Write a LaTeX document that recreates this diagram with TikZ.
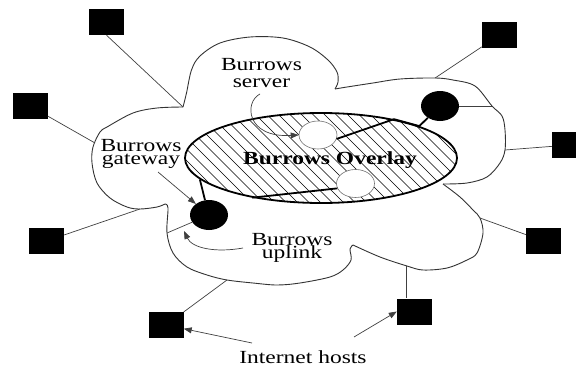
\documentclass[tikz,border=0pt]{standalone}
\usepackage{fontspec}
\usepackage{graphicx}
\setmainfont{Liberation Serif}
\usetikzlibrary{arrows.meta,shapes.geometric,calc}
% labels are set slightly wide
\newcommand\widen[1]{\scalebox{1.27}[1]{#1}}
\newcommand\tightlines{\lineskiplimit-30pt\relax}

\begin{document}
\begin{tikzpicture}[x=1pt,y=-1pt,
  host/.style={rectangle, fill=black, minimum width=35pt, minimum height=26pt, inner sep=0pt},
  gw/.style={ellipse, fill=black, minimum width=38pt, minimum height=30pt, inner sep=0pt},
  srv/.style={ellipse, draw=black!55, line width=0.6pt, fill=white, minimum width=38pt, minimum height=28pt, inner sep=0pt},
  lbl/.style={font=\fontsize{18.5}{20}\selectfont, inner sep=0pt, anchor=base},
  lbltwo/.style={align=center, inner sep=0pt, anchor=north,
    font={\fontsize{18.5}{#1}\selectfont\tightlines}},
  link/.style={draw=black!75, line width=0.7pt},
  cloudline/.style={draw=black!80, line width=0.9pt, line join=round},
  overlaylink/.style={draw=black, line width=1.8pt, line join=round},
  pointer/.style={draw=black!75, line width=0.7pt, -{Triangle[length=8pt,width=6pt]}},
  hatch/.style={draw=black, line width=0.45pt}]

\useasboundingbox (0,0) rectangle (576,370);

% ---- the Internet cloud, one smooth lobe at a time ----
\draw[cloudline] plot[smooth, tension=0.55] coordinates {(183,107) (186.5,93) (191.5,70) (200,56) (220,43) (250,37) (283,38) (310,47) (328,60) (337,72) (338,82) (335,89)};
\draw[cloudline] plot[smooth, tension=0.55] coordinates {(335,89) (347,87) (373,83) (400,79) (435,78) (453,80) (475,86) (492,106) (502,116) (505,130) (505,150) (500,163) (487,177) (467,183) (443,184)};
\draw[cloudline] plot[smooth, tension=0.55] coordinates {(443,184) (460,197) (473,210) (480,218) (483,233) (477,253) (467,260) (447,268) (423,270) (407,266) (380,257) (353,245)};
\draw[cloudline] plot[smooth, tension=0.55] coordinates {(353,245) (350,249) (351,260) (343,270) (330,277) (300,283) (277,285) (253,283) (227,280) (207,275) (187,267) (173,253) (167,233) (168,208) (165,204)};
\draw[cloudline] plot[smooth, tension=0.55] coordinates {(165,204) (157,207) (140,209) (127,207) (110,198) (97,183) (92,163) (93,147) (100,132) (107,127) (133,113) (157,108) (183,107)};

% attachment points on the cloud
\coordinate (cA)  at (183,107);
\coordinate (c2)  at (435,78);
\coordinate (cL)  at (95,143);
\coordinate (c4)  at (505,150);
\coordinate (cLL) at (140,209);
\coordinate (c6)  at (480,218);
\coordinate (cB7) at (227,280);
\coordinate (c8)  at (406,266);
\coordinate (cR1) at (492,106);
\coordinate (cUp) at (167,233);

% ---- Internet hosts ----
\node[host] (h1) at (106.5,22) {};
\node[host] (h2) at (499.5,35) {};
\node[host] (h3) at (30,106) {};
\node[host] (h4) at (569.5,145) {};
\node[host] (h5) at (46.5,241) {};
\node[host] (h6) at (543.5,241) {};
\node[host] (h7) at (166,325) {};
\node[host] (h8) at (414.5,311.5) {};

\draw[link] (h1.south) -- (cA);
\draw[link] (h2) -- (c2);
\draw[link] (h3) -- (cL);
\draw[link] (h4) -- (c4);
\draw[link] (h5) -- (cLL);
\draw[link] (h6) -- (c6);
\draw[link] (h7) -- (cB7);
\draw[link] (c8) -- (c8 |- h8.north);

% ---- the hatched overlay ----
\node[ellipse, draw=black, line width=1.8pt, minimum width=272pt, minimum height=90pt, inner sep=0pt,
  path picture={\foreach \k in {-9,...,25}
    \draw[hatch] ([xshift=\k*11.5pt]path picture bounding box.north west) -- ++(110pt,-110pt);}]
  (ov) at (321,158) {};
\node[lbl, font=\fontsize{18.5}{20}\selectfont\bfseries] (ovl) at (330,164) {\widen{Burrows Overlay}};

% ---- gateways and servers ----
\node[gw] (fr) at (440,106) {};
\node[gw] (fl) at (209,215) {};
\node[srv] (ws1) at (318,135) {};
\node[srv] (ws2) at (355.5,183.5) {};

\draw[overlaylink] (fr) -- (ov.18.4) -- (ov.28.2) -- (ws1.-12);
\draw[overlaylink] (ws2.195) -- (ov.210.6);
\draw[overlaylink] (ov.190.6) -- (fl.105);
\draw[link] (fr) -- (cR1);
\draw[link] (fl) -- (cUp);

% ---- labels (node tops sit at the cap height of the first line) ----
\node[lbltwo=17] (srv) at (261.5,57.8) {\widen{Burrows}\\\widen{server}};
\node[lbltwo=13] (gwl) at (141,138.8) {\widen{Burrows}\\\widen{gateway}};
\node[lbltwo=13] (upl) at (292,232.8) {\widen{Burrows}\\\widen{uplink}};
\node[lbl] (hosts) at (303,363) {\widen{Internet hosts}};

% ---- pointers ----
\coordinate (sP) at (260,94);
\draw[pointer] (sP) .. controls (244,102) and (246,138) .. (ws1.west);
\coordinate (gP) at (158,172);
\draw[pointer] (gP) -- (fl);
\coordinate (uP) at (243,248);
\coordinate (uT) at (184,231);
\draw[pointer] (uP) .. controls (215,253) and (192,248) .. (uT);
\coordinate (hL) at (252,343);
\draw[pointer] (hL) -- (h7);
\coordinate (hR) at (354,337);
\draw[pointer] (hR) -- (h8.west);
\end{tikzpicture}
\end{document}
